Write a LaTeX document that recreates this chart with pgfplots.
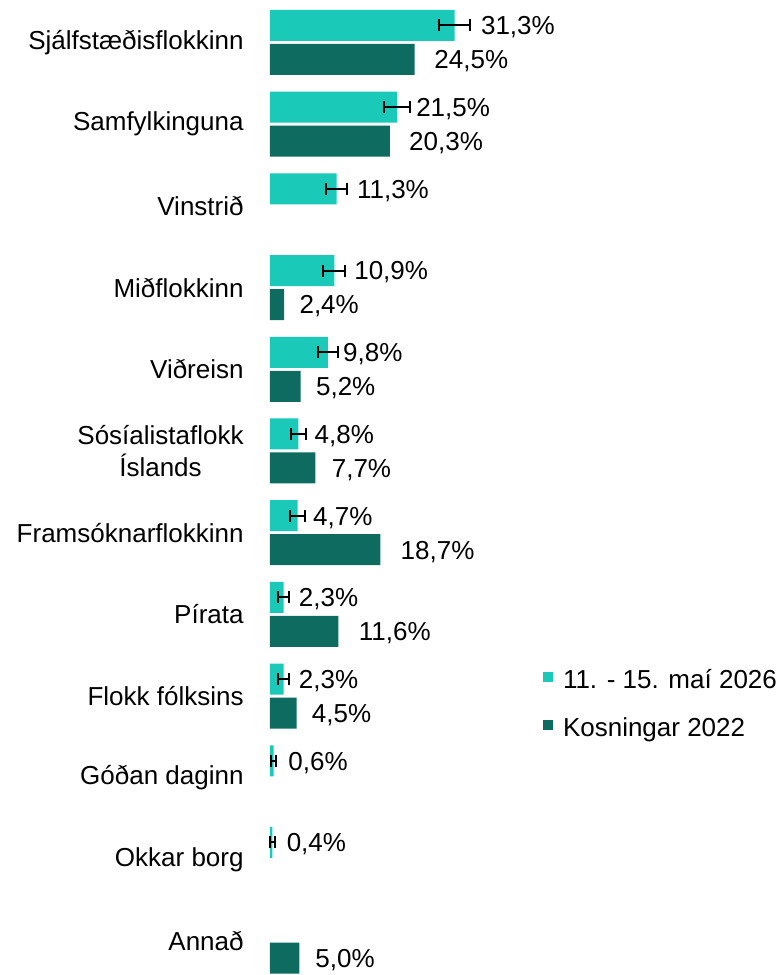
\documentclass[border=0pt]{standalone}
\usepackage{fontspec}
\setmainfont{Liberation Sans}
\usepackage{pgfplots}
\pgfplotsset{compat=1.18}
\usepackage{pgfplotstable}
\definecolor{lightc}{HTML}{1BC9B9}
\definecolor{darkc}{HTML}{0E6B60}

\pgfplotstableread{
y x err off
11 31.3 2.6 13
10 21.5 2.2 9.5
9 11.3 1.75 10
8 10.9 1.85 9.8
7 9.8 1.7 7.5
6 4.8 1.25 8
5 4.7 1.25 7.5
4 2.3 1.0 7.5
3 2.3 1.0 7.5
2 0.6 0.5 7.25
1 0.4 0.45 7
}\lighttab

\pgfplotstableread{
y x off
11 24.5 9.75
10 20.3 9.5
8 2.4 7.5
7 5.2 7.5
6 7.7 8
5 18.7 10
4 11.6 10
3 4.5 7.5
0 5.0 7.75
}\darktab

\begin{document}
\fontsize{13}{16}\selectfont
\begin{tikzpicture}
\begin{axis}[
 at={(135pt,0pt)}, anchor=south west,
 scale only axis, width=256pt, height=487.5pt,
 xmin=0, xmax=86.78, ymin=-0.414, ymax=11.52,
 xbar, bar width=15.5pt,
 axis line style={draw=none},
 xtick=\empty,
 ytick={0,...,11},
 yticklabels={Annað,Okkar borg,Góðan daginn,Flokk fólksins,Pírata,Framsóknarflokkinn,{Sósíalistaflokk\\Íslands},Viðreisn,Miðflokkinn,Vinstrið,Samfylkinguna,Sjálfstæðisflokkinn},
 yticklabel style={align=center, anchor=east, inner sep=0pt, xshift=-13pt, font=\fontsize{13}{16}\selectfont},
 major tick length=0pt,
 clip=false,
 point meta=x,
 nodes near coords={\pgfmathprintnumber[assume math mode=true,fixed,fixed zerofill,precision=1,use comma]{\pgfplotspointmeta}\%},
 visualization depends on={\thisrow{off} \as \off},
 nodes near coords style={anchor=base west, inner sep=0pt, xshift=\off pt, yshift=-4.7pt, font=\fontsize{13}{16}\selectfont, text=black},
 legend style={at={(rel axis cs:0.5332,0.276)}, anchor=west, draw=none, fill=none, inner sep=0pt, outer sep=0pt, row sep=7.1pt, font=\fontsize{13}{16}\selectfont, nodes={inner sep=2.5pt, text height=9.4pt, text depth=2.7pt}, /tikz/every odd column/.append style={column sep=2.5pt}},
 legend cell align=left,
 legend image code/.code={\fill (0pt,0pt) rectangle (5pt,5pt);},
]
\addplot[fill=lightc, draw=none, bar shift=8.5pt,
  error bars/.cd, x dir=both, x explicit, error mark=|,
  error bar style={line width=1pt, black},
  error mark options={line width=1pt, black, mark size=3pt}]
  table[x=x, y=y, x error=err] {\lighttab};
\addlegendentry{11. - 15. maí 2026}
\addplot[fill=darkc, draw=none, bar shift=-8.5pt]
  table[x=x, y=y] {\darktab};
\addlegendentry{Kosningar 2022}
\end{axis}
\pgfresetboundingbox
\path (0pt,0pt) rectangle (391pt,487.5pt);
\end{tikzpicture}
\end{document}
